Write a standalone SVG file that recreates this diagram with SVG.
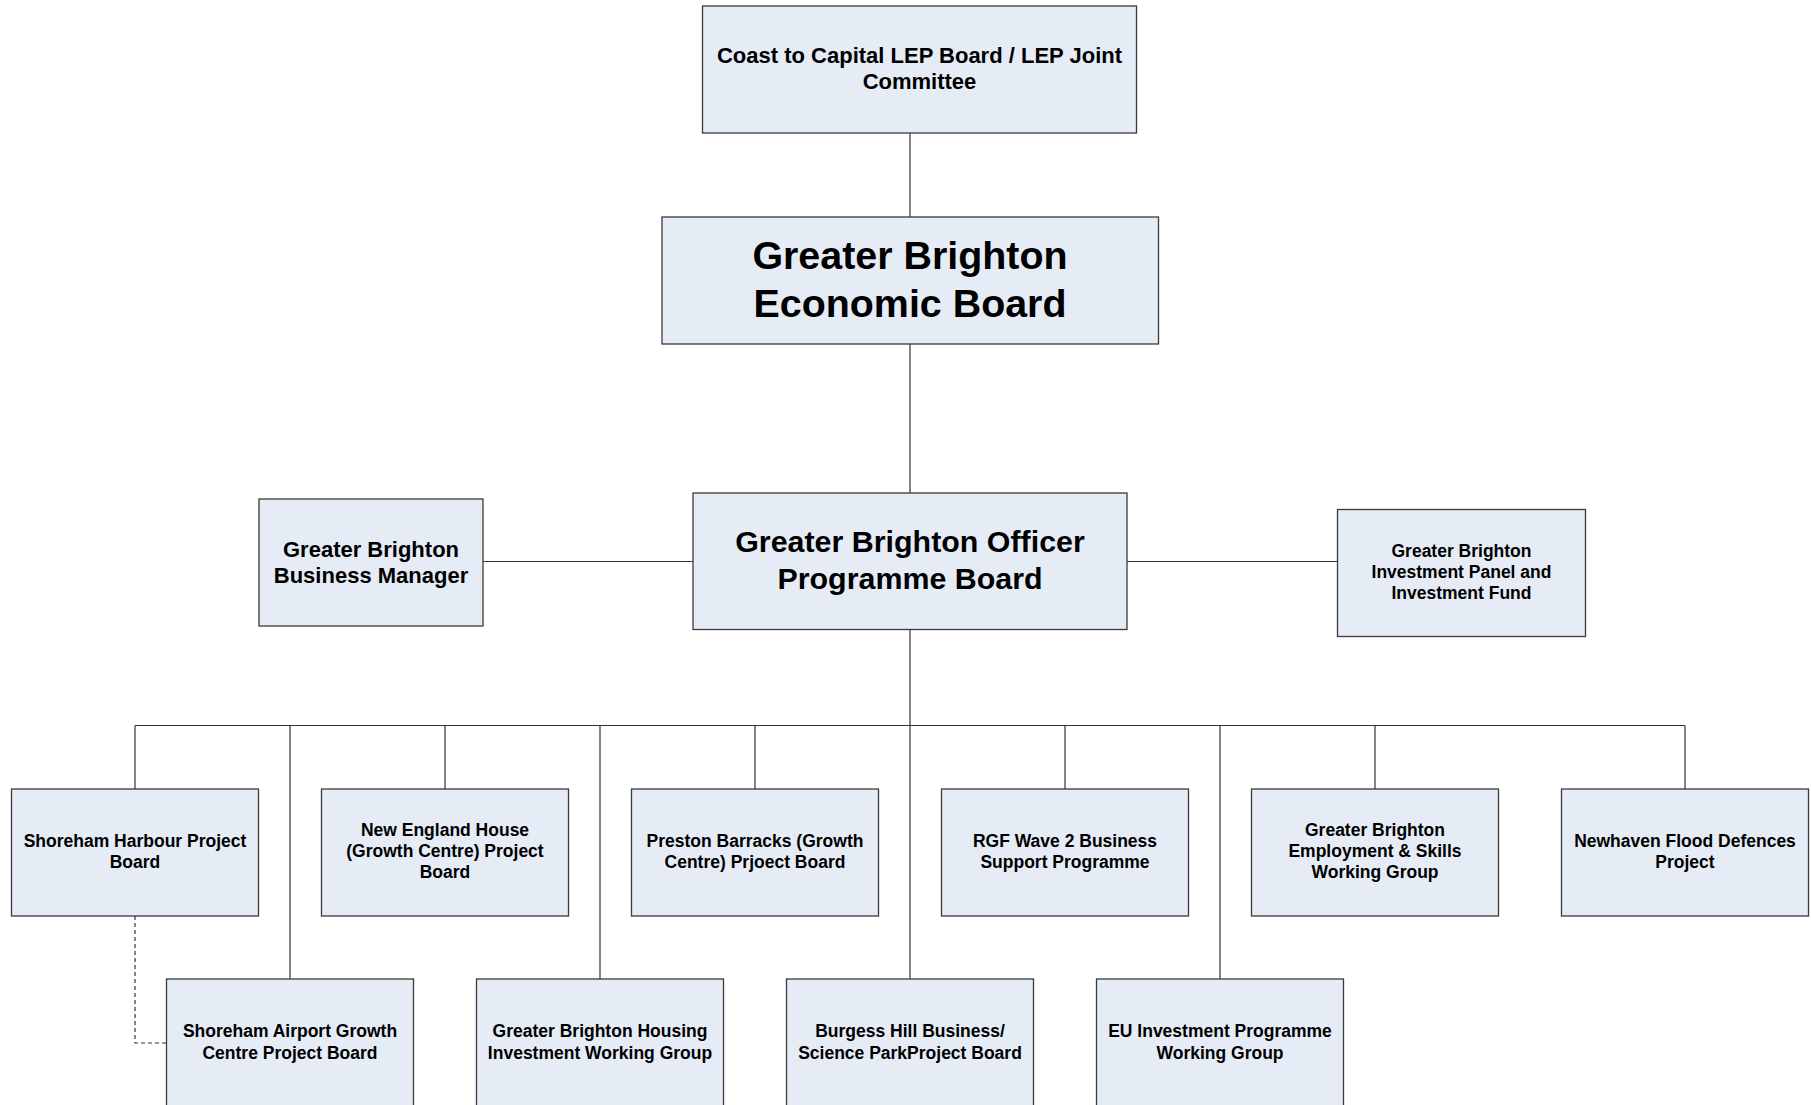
<svg xmlns="http://www.w3.org/2000/svg" width="1811" height="1105" viewBox="0 0 1811 1105">
<style>
.box{fill:#E6ECF6;stroke:#3a3a3a;stroke-width:1.3}
.t{font-family:"Liberation Sans",Arial,sans-serif;font-weight:bold;fill:#000;text-anchor:middle}
.s{font-size:17.5px}
.m{font-size:22px}
.l{font-size:30.4px}
.xl{font-size:39.4px}
.c{fill:none;stroke:#333;stroke-width:1.2}
.d{fill:none;stroke:#333;stroke-width:1.2;stroke-dasharray:4,3}
</style>
<rect width="1811" height="1105" fill="#fff"/>
<g id="connectors">
<line class="c" x1="910" y1="133" x2="910" y2="217"/>
<line class="c" x1="910" y1="344" x2="910" y2="493"/>
<line class="c" x1="483" y1="561.5" x2="693" y2="561.5"/>
<line class="c" x1="1127" y1="561.5" x2="1337.5" y2="561.5"/>
<line class="c" x1="910" y1="629.5" x2="910" y2="979"/>
<line class="c" x1="135" y1="725.5" x2="1685" y2="725.5"/>
<line class="c" x1="135" y1="725.5" x2="135" y2="789"/>
<line class="c" x1="445" y1="725.5" x2="445" y2="789"/>
<line class="c" x1="755" y1="725.5" x2="755" y2="789"/>
<line class="c" x1="1065" y1="725.5" x2="1065" y2="789"/>
<line class="c" x1="1375" y1="725.5" x2="1375" y2="789"/>
<line class="c" x1="1685" y1="725.5" x2="1685" y2="789"/>
<line class="c" x1="290" y1="725.5" x2="290" y2="979"/>
<line class="c" x1="600" y1="725.5" x2="600" y2="979"/>
<line class="c" x1="1220" y1="725.5" x2="1220" y2="979"/>
<polyline class="d" points="135,916 135,1043 166.5,1043"/>
</g>
<g id="coast">
<rect class="box" x="702.5" y="6" width="434" height="127"/>
<text class="t m" x="919.5" y="63">Coast to Capital LEP Board / LEP Joint</text>
<text class="t m" x="919.5" y="89">Committee</text>
</g>
<g id="economic">
<rect class="box" x="662" y="217" width="496.5" height="127"/>
<text class="t xl" x="910" y="269">Greater Brighton</text>
<text class="t xl" x="910" y="317">Economic Board</text>
</g>
<g id="business-manager">
<rect class="box" x="259" y="499" width="224" height="127"/>
<text class="t m" x="371" y="556.5">Greater Brighton</text>
<text class="t m" x="371" y="582.5">Business Manager</text>
</g>
<g id="officer">
<rect class="box" x="693" y="493" width="434" height="136.5"/>
<text class="t l" x="910" y="552">Greater Brighton Officer</text>
<text class="t l" x="910" y="589">Programme Board</text>
</g>
<g id="investment">
<rect class="box" x="1337.5" y="509.5" width="248" height="127"/>
<text class="t s" x="1461.5" y="557">Greater Brighton</text>
<text class="t s" x="1461.5" y="578">Investment Panel and</text>
<text class="t s" x="1461.5" y="599">Investment Fund</text>
</g>
<g id="shoreham-harbour">
<rect class="box" x="11.5" y="789" width="247" height="127"/>
<text class="t s" x="135" y="847">Shoreham Harbour Project</text>
<text class="t s" x="135" y="868">Board</text>
</g>
<g id="new-england">
<rect class="box" x="321.5" y="789" width="247" height="127"/>
<text class="t s" x="445" y="836">New England House</text>
<text class="t s" x="445" y="857">(Growth Centre) Project</text>
<text class="t s" x="445" y="878">Board</text>
</g>
<g id="preston">
<rect class="box" x="631.5" y="789" width="247" height="127"/>
<text class="t s" x="755" y="847">Preston Barracks (Growth</text>
<text class="t s" x="755" y="868">Centre) Prjoect Board</text>
</g>
<g id="rgf">
<rect class="box" x="941.5" y="789" width="247" height="127"/>
<text class="t s" x="1065" y="847">RGF Wave 2 Business</text>
<text class="t s" x="1065" y="868">Support Programme</text>
</g>
<g id="employment">
<rect class="box" x="1251.5" y="789" width="247" height="127"/>
<text class="t s" x="1375" y="836">Greater Brighton</text>
<text class="t s" x="1375" y="857">Employment &amp; Skills</text>
<text class="t s" x="1375" y="878">Working Group</text>
</g>
<g id="newhaven">
<rect class="box" x="1561.5" y="789" width="247" height="127"/>
<text class="t s" x="1685" y="847">Newhaven Flood Defences</text>
<text class="t s" x="1685" y="868">Project</text>
</g>
<g id="shoreham-airport">
<rect class="box" x="166.5" y="979" width="247" height="128"/>
<text class="t s" x="290" y="1037">Shoreham Airport Growth</text>
<text class="t s" x="290" y="1058.5">Centre Project Board</text>
</g>
<g id="housing">
<rect class="box" x="476.5" y="979" width="247" height="128"/>
<text class="t s" x="600" y="1037">Greater Brighton Housing</text>
<text class="t s" x="600" y="1058.5">Investment Working Group</text>
</g>
<g id="burgess-hill">
<rect class="box" x="786.5" y="979" width="247" height="128"/>
<text class="t s" x="910" y="1037">Burgess Hill Business/</text>
<text class="t s" x="910" y="1058.5">Science ParkProject Board</text>
</g>
<g id="eu-investment">
<rect class="box" x="1096.5" y="979" width="247" height="128"/>
<text class="t s" x="1220" y="1037">EU Investment Programme</text>
<text class="t s" x="1220" y="1058.5">Working Group</text>
</g>
</svg>
